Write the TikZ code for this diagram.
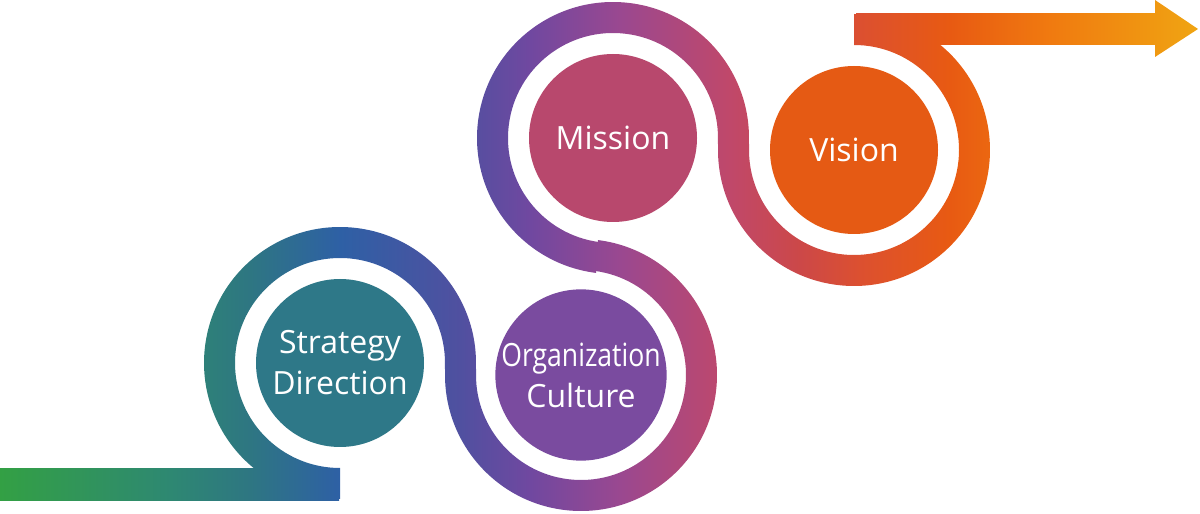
\documentclass[tikz,border=0pt]{standalone}
\usepackage{fontspec}
\setmainfont{Open Sans}
\usetikzlibrary{calc}

\definecolor{strategycol}{HTML}{2E7888}
\definecolor{culturecol}{HTML}{7A4B9F}
\definecolor{missioncol}{HTML}{B8486D}
\definecolor{visioncol}{HTML}{E55A14}

\definecolor{b0}{HTML}{33A044}
\definecolor{b1}{HTML}{2E8872}
\definecolor{b2}{HTML}{2E7682}
\definecolor{b3}{HTML}{2E60A5}
\definecolor{b4}{HTML}{5050A0}
\definecolor{b5}{HTML}{7048A0}
\definecolor{b6}{HTML}{9A4890}
\definecolor{b7}{HTML}{C0486A}
\definecolor{b8}{HTML}{CC4848}
\definecolor{b9}{HTML}{DC5030}
\definecolor{b10}{HTML}{E85A12}
\definecolor{b11}{HTML}{F07A10}
\definecolor{b12}{HTML}{F0A512}

\pgfdeclarehorizontalshading{bandshade}{100bp}{color(0bp)=(b0); color(25bp)=(b0);
	color(32.08bp)=(b1); color(35.42bp)=(b2); color(39.17bp)=(b3); color(44.17bp)=(b4);
	color(47.08bp)=(b5); color(50.83bp)=(b6); color(55.42bp)=(b7); color(58.33bp)=(b8);
	color(60.83bp)=(b9); color(64.58bp)=(b10); color(68.75bp)=(b11);
	color(75bp)=(b12); color(100bp)=(b12)}

\def\bandpiece(#1)(#2:#3){($(#1)+(#2:136)$) arc[start angle=#2, end angle=#3, radius=136] -- ($(#1)+(#3:105)$) arc[start angle=#3, end angle=#2, radius=105] -- cycle}
\def\bandfill#1{\begin{scope}\clip #1; \shade[shading=bandshade] (0, 0) rectangle (1200, 514);\end{scope}}

\tikzset{stage/.style={circle, minimum size=84pt, inner sep=0pt, text=white, align=center, font=\fontsize{16}{20.5}\selectfont}}

\begin{document}
\begin{tikzpicture}[x=0.5pt, y=0.5pt]
		%%%%% START %%%%%
		
		\useasboundingbox (0, 0) rectangle (1200, 514);
		
		\node[stage, fill=strategycol] (strategy) at (340, 151) {Strategy\\Direction};
		\node[stage, fill=culturecol] (culture) at (581, 139) {\scalebox{0.83}[1]{Organization}\\Culture};
		\node[stage, fill=missioncol] (mission) at (613, 376) {Mission};
		\node[stage, fill=visioncol] (vision) at (854, 364) {Vision};
		
		\bandfill{(0, 13) rectangle (339, 45)}
		\bandfill{\bandpiece(strategy)(-3.35:270)}
		\bandfill{\bandpiece(culture)(176.65:442.81)}
		\bandfill{\bandpiece(mission)(-3.35:262.81)}
		\bandfill{\bandpiece(vision)(176.65:450)}
		\bandfill{(856, 469) rectangle (1155, 500)}
		\bandfill{(1155, 457) -- (1198, 485) -- (1155, 514) -- cycle}
		
		%%%%% END %%%%%
\end{tikzpicture}
\end{document}
